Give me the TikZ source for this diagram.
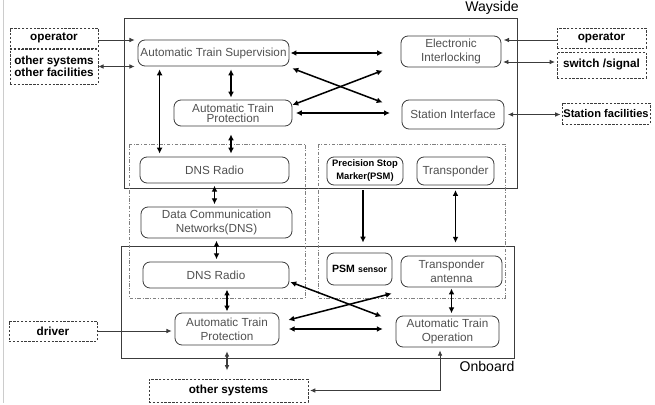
\documentclass[tikz,border=0pt]{standalone}
\usepackage{fontspec}
\setmainfont{Liberation Sans}
\usetikzlibrary{arrows.meta, positioning, calc}
\definecolor{boxLine}{RGB}{60,60,60}
\definecolor{boxText}{RGB}{80,80,80}
\definecolor{extLine}{RGB}{60,60,60}

\begin{document}
\begin{tikzpicture}[
        x=0.03cm, y=-0.03cm,
        unit/.style={rectangle, draw=boxLine, line width=0.7pt, rounded corners=6pt, align=center, text=boxText, inner sep=1pt, font=\fontsize{10}{12}\selectfont},
        ext/.style={rectangle, draw=extLine, line width=0.6pt, dash pattern=on 2pt off 1.3pt, align=center, inner sep=1pt, font=\bfseries\fontsize{10}{10.5}\selectfont},
        group/.style={draw=boxLine, line width=0.8pt},
        zone/.style={draw=gray, line width=0.6pt, dash pattern=on 3pt off 1.5pt on 0.6pt off 1.5pt},
        big/.style={{Latex[length=5pt,width=5pt]}-{Latex[length=5pt,width=5pt]}, line width=1.3pt},
        bigone/.style={-{Latex[length=5pt,width=5pt]}, line width=1.3pt},
        link/.style={-{Latex[length=4.5pt,width=4pt]}, line width=0.7pt, draw=extLine},
        linkboth/.style={{Latex[length=4.5pt,width=4pt]}-{Latex[length=4.5pt,width=4pt]}, line width=0.7pt, draw=extLine}
    ]
        \useasboundingbox (0,0) rectangle (655,405);
        \draw[gray!40] (3,0) -- (3,403);

        % Wayside and onboard areas
        \draw[group] (124,18) rectangle (517,188);
        \draw[group] (121,246) rectangle (514,358);
        \draw[zone] (129,144) rectangle (305,298);
        \draw[zone] (318,144) rectangle (505,298);
        \node[font=\fontsize{12}{14}\selectfont] (waylbl) at (492,8) {Wayside};
        \node[font=\fontsize{12}{14}\selectfont] (onblbl) at (487,366) {Onboard};

        % Wayside units
        \node[unit, minimum width=4.53cm, minimum height=0.78cm] (ats) at (213.5,53) {Automatic Train Supervision};
        \node[unit, minimum width=3.54cm, minimum height=0.78cm, font=\fontsize{10}{8.5}\selectfont] (atpw) at (233,113) {Automatic Train\\Protection};
        \node[unit, minimum width=4.47cm, minimum height=0.78cm] (radw) at (214.5,170) {DNS Radio};
        \node[unit, minimum width=3.0cm, minimum height=0.93cm] (ei) at (451,51.5) {Electronic\\Interlocking};
        \node[unit, minimum width=3.06cm, minimum height=0.87cm] (si) at (453,114.5) {Station Interface};
        \node[unit, minimum width=2.28cm, minimum height=0.84cm, text=black, font=\bfseries\fontsize{8}{11}\selectfont] (psm) at (365,171) {Precision Stop\\Marker(PSM)};
        \node[unit, minimum width=2.31cm, minimum height=0.84cm] (tr) at (455.5,171) {Transponder};

        % Network
        \node[unit, minimum width=4.53cm, minimum height=0.93cm] (dcn) at (216.5,222.5) {Data Communication\\Networks(DNS)};

        % Onboard units
        \node[unit, minimum width=4.38cm, minimum height=0.78cm] (rado) at (216,275) {DNS Radio};
        \node[unit, minimum width=3.12cm, minimum height=0.96cm] (atpo) at (227,329) {Automatic Train\\Protection};
        \node[unit, minimum width=1.95cm, minimum height=0.96cm, text=black, font=\bfseries] (psms) at (359.5,269) {{\fontsize{9}{10}\selectfont PSM} {\fontsize{7.5}{10}\selectfont sensor}};
        \node[unit, minimum width=3.03cm, minimum height=0.93cm] (tra) at (451.5,271.5) {Transponder\\antenna};
        \node[unit, minimum width=3.09cm, minimum height=0.93cm] (ato) at (447.5,331.5) {Automatic Train\\Operation};

        % External parties
        \node[ext, minimum width=2.64cm, minimum height=0.6cm] (opl) at (54,38) {operator};
        \node[ext, minimum width=2.64cm, minimum height=1.05cm] (oth) at (54,66.5) {other systems\\other facilities};
        \node[ext, minimum width=2.67cm, minimum height=0.6cm] (opr) at (601.5,38) {operator};
        \node[ext, minimum width=2.67cm, minimum height=0.78cm] (sws) at (601.5,65) {switch /signal};
        \node[ext, minimum width=2.64cm, minimum height=0.63cm, font=\bfseries\fontsize{9.5}{10.5}\selectfont] (stf) at (606,113.5) {Station facilities};
        \node[ext, minimum width=2.64cm, minimum height=0.6cm] (drv) at (53,331) {driver};
        \node[ext, minimum width=4.77cm, minimum height=0.69cm] (oths) at (228.5,390.5) {other systems};

        % Thin links to outside
        \draw[link, shorten >=2.5pt] ($(opl.east)+(0,2)$) -- ($(opl.east -| ats.west)+(0,2)$);
        \draw[linkboth, shorten >=2.5pt] (oth.east) -- (oth.east -| ats.west);
        \draw[link, shorten >=2pt] ($(opr.west)+(0,2)$) -- ($(opr.west -| ei.east)+(0,2)$);
        \draw[linkboth, shorten <=1.5pt, shorten >=1.5pt] ($(sws.west)+(0,-3)$) -- ($(sws.west -| ei.east)+(0,-3)$);
        \draw[linkboth, shorten <=3pt, shorten >=1pt] (si.east) -- (si.east -| stf.west);
        \draw[link, shorten >=2.5pt] (drv.east) -- (drv.east -| atpo.west);
        \draw[linkboth, line width=0.9pt, shorten <=5pt, shorten >=7pt] (atpo.south) -- (atpo.south |- oths.north);
        \draw[linkboth, shorten >=1.5pt] ($(ato.south)+(-7.5,3)$) |- (oths.east);

        % Wayside links
        \draw[big, shorten <=1pt, shorten >=15pt] (ats.east) -- (ats.east -| ei.west);
        \draw[big, shorten <=3pt, shorten >=10pt] (atpw.east) -- (atpw.east -| si.west);
        \draw[big] ($(ats.south east)+(3,2)$) -- ($(si.west)+(-19,-12)$);
        \draw[big] ($(atpw.east)+(0,-8)$) -- ($(ei.west)+(-18,19)$);
        \draw[big] ($(ats.south west)+(22,3)$) -- ($(radw.north west)+(20,-3)$);
        \draw[big] ($(ats.south)+(17.5,3)$) -- ($(atpw.north)+(-2,-2)$);
        \draw[big] ($(atpw.south)+(-2,8)$) -- ($(radw.north)+(16.5,-3)$);
        \draw[big, shorten <=2pt, shorten >=2pt] (radw.south) -- (radw.south |- dcn.north);
        \draw[big, shorten <=2pt, shorten >=2pt] (dcn.south) -- (dcn.south |- rado.north);
        \draw[bigone] ($(psm.south)+(-2,5)$) -- ($(psms.north)+(3.5,-10)$);
        \draw[big, shorten <=4pt, shorten >=11pt] (tr.south) -- (tr.south |- tra.north);

        % Onboard links
        \draw[big, shorten <=1pt, shorten >=1pt] (rado.south -| atpo.north) -- (atpo.north);
        \draw[big, shorten <=1pt, shorten >=2pt] (tra.south) -- (tra.south |- ato.north);
        \draw[big, shorten <=8pt, shorten >=11pt] (atpo.east) -- (atpo.east -| ato.west);
        \draw[big] ($(rado.east)+(1,7)$) -- ($(ato.west)+(-14,-15)$);
        \draw[big] ($(atpo.east)+(9,-9)$) -- ($(tra.west)+(-9,22)$);
    \end{tikzpicture}
\end{document}
